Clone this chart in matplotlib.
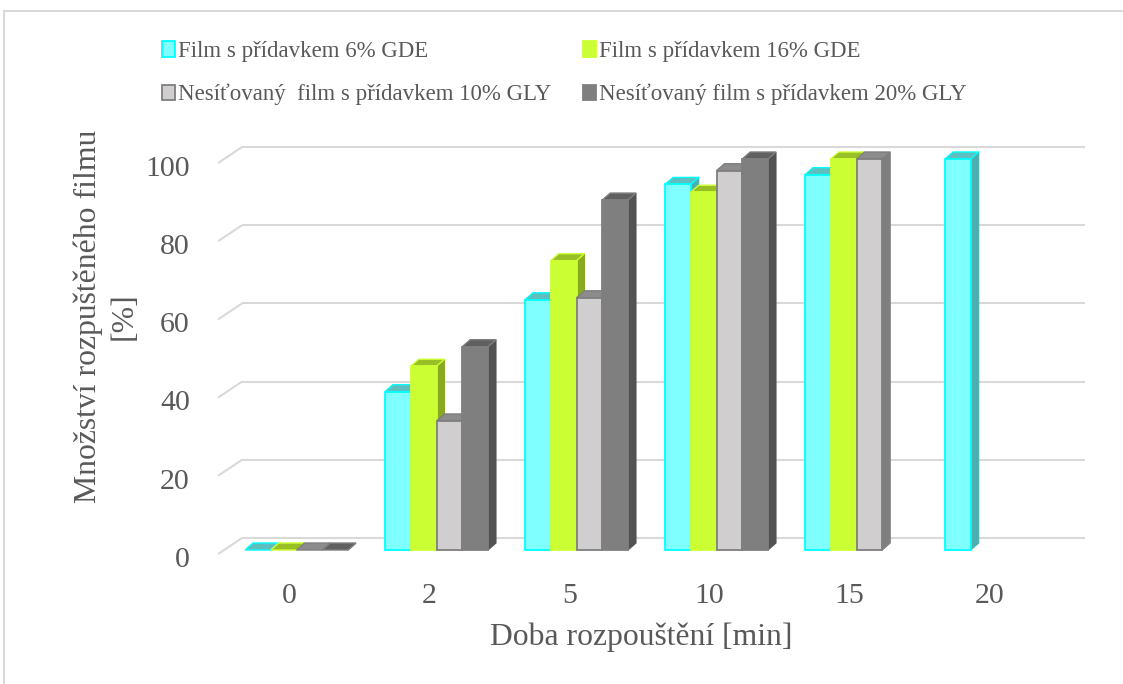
import matplotlib
matplotlib.use('Agg')
import matplotlib.pyplot as plt
from matplotlib.patches import Polygon, Rectangle, Patch

# ---- data -------------------------------------------------------------
categories = ['0', '2', '5', '10', '15', '20']
series_names = ['Film s přídavkem 6% GDE',
                'Film s přídavkem 16% GDE',
                'Nesíťovaný  film s přídavkem 10% GLY',
                'Nesíťovaný film s přídavkem 20% GLY']
gde6 = [0, 40.5, 64, 93.5, 96, 100]
gde16 = [0, 47, 74, 91.5, 100, None]
gly10 = [0, 33, 64.5, 97, 100, None]
gly20 = [0, 52, 89.5, 100, None, None]
yticks = [0, 20, 40, 60, 80, 100]

# front / top / side / edge colours per series
styles = [
    ('#7FFFFF', '#5FBFBF', '#4DAEAE', '#00FFFF'),
    ('#CCFF33', '#99BF26', '#88AA20', '#CCFF33'),
    ('#D0CECF', '#8C8C8C', '#7F7F7F', '#7F7F7F'),
    ('#7F7F7F', '#606060', '#525252', '#7F7F7F'),
]
text_color = '#595959'
grid_color = '#D9D9D9'
font = 'Liberation Serif'
plt.rcParams['font.family'] = [font, 'DejaVu Serif']

W, H = 1123, 684
fig = plt.figure(figsize=(W / 100, H / 100), dpi=100)

# axes: category i centred at x=i, y in percent on the back wall
ax = fig.add_axes([218 / W, 1 - 560 / H, (1085 - 218) / W, (560 - 140) / H])
ax.set_xlim(-0.5607, 5.6321)
ax.set_ylim(-5.627, 101.79)
ax.set_axis_off()

# pseudo-3D geometry (data units)
bar_w = 0.184
front_shift = -3.07       # bar front plane sits below the back wall
dx, dy = 0.057, 1.79      # bar depth
wall_x = -0.389
wall_dx, wall_dy = 0.171, 4.09

# gridlines on the back wall with the side-wall diagonal
for v in yticks:
    ax.plot([wall_x - wall_dx, wall_x], [v - wall_dy, v], color=grid_color,
            lw=1.5, zorder=1, solid_capstyle='butt')
    ax.plot([wall_x, 5.6321], [v, v], color=grid_color, lw=1.5, zorder=1,
            solid_capstyle='butt')
    ax.text(-0.761, v - 5.6, f'{v}', ha='right', va='center',
            fontsize=21.5, color=text_color, clip_on=False)


def bar3d(x0, v, front, top, side, edge, z):
    y0 = front_shift
    y1 = v + front_shift
    ax.add_patch(Polygon([(x0 + bar_w, y0), (x0 + bar_w + dx, y0 + dy),
                          (x0 + bar_w + dx, y1 + dy), (x0 + bar_w, y1)],
                         closed=True, facecolor=side, edgecolor=side,
                         lw=0.8, zorder=z))
    ax.add_patch(Polygon([(x0, y1), (x0 + bar_w, y1),
                          (x0 + bar_w + dx, y1 + dy), (x0 + dx, y1 + dy)],
                         closed=True, facecolor=top, edgecolor=edge,
                         lw=1.0, zorder=z))
    if v > 0:
        ax.add_patch(Rectangle((x0, y0), bar_w, v, facecolor=front,
                               edgecolor=edge, lw=1.3, zorder=z + 0.5))


all_series = [gde6, gde16, gly10, gly20]
for i in range(len(categories)):
    for k, vals in enumerate(all_series):
        v = vals[i]
        if v is None:
            continue
        x0 = i - 2 * bar_w + k * bar_w
        bar3d(x0, v, *styles[k], z=10 + i * 10 + k * 2)
    ax.text(i - 0.05, -14.9, categories[i], ha='center', va='center',
            fontsize=21.5, color=text_color, clip_on=False)

# axis titles
fig.text(641 / W, 1 - 637 / H, 'Doba rozpouštění [min]', ha='center',
         va='center', fontsize=22.8, color=text_color)
fig.text(106 / W, 1 - 316 / H, 'Množství rozpuštěného filmu\n[%]',
         ha='center', va='center', rotation=90, multialignment='center',
         fontsize=22.9, color=text_color, linespacing=1.33)

# legend
handles = [Patch(facecolor=s[0], edgecolor=s[3], lw=1.3) for s in styles]
order = [0, 2, 1, 3]
fig.legend([handles[j] for j in order], [series_names[j] for j in order],
           loc='upper left', bbox_to_anchor=(162 / W, 1 - 41 / H),
           ncol=2, frameon=False, fontsize=16.5, labelcolor=text_color,
           handlelength=0.55, handleheight=0.65, handletextpad=0.15,
           columnspacing=1.4, labelspacing=0.95, borderpad=0,
           borderaxespad=0)

# chart area border
fig.patches.append(Rectangle((4 / W, -0.1), 1.2, 1.1 - 11 / H,
                             transform=fig.transFigure, fill=False,
                             edgecolor=grid_color, lw=1.5))

fig.savefig('out.png', dpi=100, facecolor='white')
